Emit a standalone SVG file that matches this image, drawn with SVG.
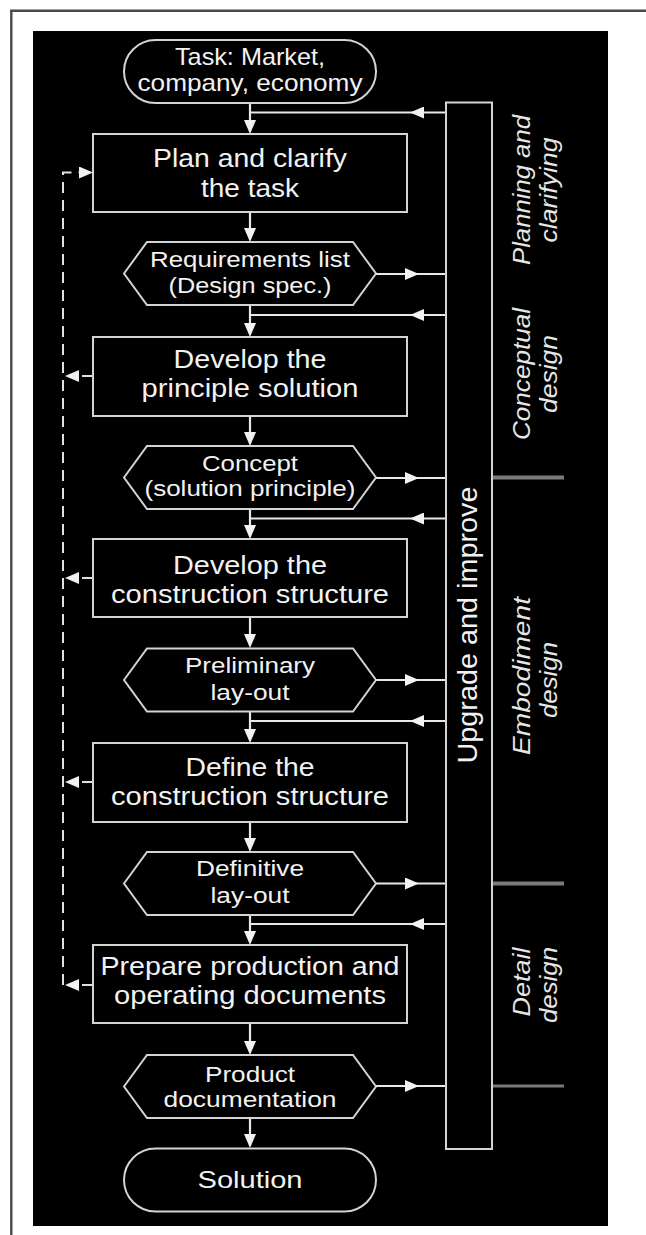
<svg xmlns="http://www.w3.org/2000/svg" width="646" height="1235" viewBox="0 0 646 1235">
  <defs>
    <style>
      .shape { fill: #000; stroke: #d4d4d4; stroke-width: 2; }
      .bar { fill: #000; stroke: #d4d4d4; stroke-width: 2; }
      .t { font-family: "Liberation Sans", Arial, sans-serif; fill: #f2f2f2; text-anchor: middle; lengthAdjust: spacingAndGlyphs; }
      .box { font-size: 25px; }
      .hex { font-size: 22px; }
      .term { font-size: 24px; }
      .phase { font-size: 23px; font-style: italic; fill: #e6e6e6; }
      .flow { fill: none; stroke: #e8e8e8; stroke-width: 2.2; }
      .dash { fill: none; stroke: #e0e0e0; stroke-width: 2; stroke-dasharray: 11 7; }
      .sep { stroke: #7a7a7a; stroke-width: 4; }
      .frame { stroke: #4a4a4a; stroke-width: 2.4; }
    </style>
    <marker id="arrow" markerUnits="userSpaceOnUse" markerWidth="14" markerHeight="12" refX="11" refY="6" orient="auto">
      <path d="M0,0 L14,6 L0,12 z" fill="#f2f2f2"/>
    </marker>
  </defs>

  <!-- page frame and dark panel -->
  <rect width="646" height="1235" fill="#fff"/>
  <line class="frame" x1="10" y1="10.8" x2="646" y2="10.8"/>
  <line class="frame" x1="11.3" y1="10" x2="11.3" y2="1235"/>
  <rect x="33" y="31" width="575" height="1195" fill="#000"/>

  <!-- phase separators -->
  <g id="phase-separators">
    <line class="sep" x1="492" y1="477.5" x2="564" y2="477.5"/>
    <line class="sep" x1="492" y1="883.5" x2="564" y2="883.5"/>
    <line class="sep" x1="492" y1="1086" x2="564" y2="1086" style="stroke-width:3"/>
  </g>

  <!-- connectors -->
  <g id="connectors">
    <!-- main downward flow -->
    <path class="flow" d="M250 103 V131" marker-end="url(#arrow)"/>
    <path class="flow" d="M250 212 V239" marker-end="url(#arrow)"/>
    <path class="flow" d="M250 305 V334" marker-end="url(#arrow)"/>
    <path class="flow" d="M250 416 V443" marker-end="url(#arrow)"/>
    <path class="flow" d="M250 509 V536" marker-end="url(#arrow)"/>
    <path class="flow" d="M250 617 V645" marker-end="url(#arrow)"/>
    <path class="flow" d="M250 712 V740" marker-end="url(#arrow)"/>
    <path class="flow" d="M250 822 V849" marker-end="url(#arrow)"/>
    <path class="flow" d="M250 915 V942" marker-end="url(#arrow)"/>
    <path class="flow" d="M250 1023 V1052" marker-end="url(#arrow)"/>
    <path class="flow" d="M250 1118 V1145" marker-end="url(#arrow)"/>

    <!-- results into "Upgrade and improve" -->
    <path class="flow" d="M376 274 L416 274 L446 274" marker-mid="url(#arrow)"/>
    <path class="flow" d="M376 478 L416 478 L446 478" marker-mid="url(#arrow)"/>
    <path class="flow" d="M376 680 L416 680 L446 680" marker-mid="url(#arrow)"/>
    <path class="flow" d="M376 883.5 L416 883.5 L446 883.5" marker-mid="url(#arrow)"/>
    <path class="flow" d="M376 1086 L416 1086 L446 1086" marker-mid="url(#arrow)"/>

    <!-- feedback from "Upgrade and improve" -->
    <path class="flow" d="M446 112.5 L413 112.5 L250 112.5" marker-mid="url(#arrow)"/>
    <path class="flow" d="M446 315 L413 315 L250 315" marker-mid="url(#arrow)"/>
    <path class="flow" d="M446 518.5 L413 518.5 L250 518.5" marker-mid="url(#arrow)"/>
    <path class="flow" d="M446 721 L413 721 L250 721" marker-mid="url(#arrow)"/>
    <path class="flow" d="M446 924 L413 924 L250 924" marker-mid="url(#arrow)"/>

    <!-- dashed return path -->
    <path class="dash" d="M63 985 V172.5 H90" marker-end="url(#arrow)"/>
    <path class="dash" d="M93 376 H68" marker-end="url(#arrow)"/>
    <path class="dash" d="M93 578 H68" marker-end="url(#arrow)"/>
    <path class="dash" d="M93 782 H68" marker-end="url(#arrow)"/>
    <path class="dash" d="M93 985 H68" marker-end="url(#arrow)"/>
  </g>

  <!-- side bar -->
  <g id="upgrade-improve">
    <rect class="bar" x="446" y="102.5" width="46" height="1046.5"/>
    <text class="t" transform="translate(477,625) rotate(-90)" font-size="27" textLength="277" lengthAdjust="spacingAndGlyphs">Upgrade and improve</text>
  </g>

  <!-- phase labels -->
  <g id="phase-planning">
    <text class="t phase" transform="translate(530,190) rotate(-90)" textLength="150" lengthAdjust="spacingAndGlyphs">Planning and</text>
    <text class="t phase" transform="translate(557,190) rotate(-90)" textLength="105" lengthAdjust="spacingAndGlyphs">clarifying</text>
  </g>
  <g id="phase-conceptual">
    <text class="t phase" transform="translate(530,374) rotate(-90)" textLength="132" lengthAdjust="spacingAndGlyphs">Conceptual</text>
    <text class="t phase" transform="translate(557,374) rotate(-90)" textLength="78" lengthAdjust="spacingAndGlyphs">design</text>
  </g>
  <g id="phase-embodiment">
    <text class="t phase" transform="translate(530,676) rotate(-90)" textLength="158" lengthAdjust="spacingAndGlyphs">Embodiment</text>
    <text class="t phase" transform="translate(557,680) rotate(-90)" textLength="76" lengthAdjust="spacingAndGlyphs">design</text>
  </g>
  <g id="phase-detail">
    <text class="t phase" transform="translate(530,982) rotate(-90)" textLength="69" lengthAdjust="spacingAndGlyphs">Detail</text>
    <text class="t phase" transform="translate(557,985) rotate(-90)" textLength="76" lengthAdjust="spacingAndGlyphs">design</text>
  </g>

  <!-- process nodes -->
  <g id="task">
    <rect class="shape" x="124" y="40" width="252" height="63" rx="31.5"/>
    <text class="t term" x="250" y="65" textLength="150" lengthAdjust="spacingAndGlyphs">Task: Market,</text>
    <text class="t term" x="250" y="91" textLength="225" lengthAdjust="spacingAndGlyphs">company, economy</text>
  </g>

  <g id="plan-clarify">
    <rect class="shape" x="93" y="134" width="314" height="78"/>
    <text class="t box" x="250" y="166.7" textLength="194" lengthAdjust="spacingAndGlyphs">Plan and clarify</text>
    <text class="t box" x="250" y="196.7" textLength="98" lengthAdjust="spacingAndGlyphs">the task</text>
  </g>

  <g id="requirements-list">
    <polygon class="shape" points="124,273.5 147,242 353,242 376,273.5 353,305 147,305"/>
    <text class="t hex" x="250" y="266.7" textLength="200" lengthAdjust="spacingAndGlyphs">Requirements list</text>
    <text class="t hex" x="250" y="293.3" textLength="163" lengthAdjust="spacingAndGlyphs">(Design spec.)</text>
  </g>

  <g id="principle-solution">
    <rect class="shape" x="93" y="337" width="314" height="79"/>
    <text class="t box" x="250" y="368.3" textLength="153" lengthAdjust="spacingAndGlyphs">Develop the</text>
    <text class="t box" x="250" y="397.3" textLength="217" lengthAdjust="spacingAndGlyphs">principle solution</text>
  </g>

  <g id="concept">
    <polygon class="shape" points="124,477.5 147,446 353,446 376,477.5 353,509 147,509"/>
    <text class="t hex" x="250" y="470.7" textLength="96" lengthAdjust="spacingAndGlyphs">Concept</text>
    <text class="t hex" x="250" y="496" textLength="211" lengthAdjust="spacingAndGlyphs">(solution principle)</text>
  </g>

  <g id="develop-structure">
    <rect class="shape" x="93" y="539" width="314" height="78"/>
    <text class="t box" x="250" y="574" textLength="154" lengthAdjust="spacingAndGlyphs">Develop the</text>
    <text class="t box" x="250" y="602.7" textLength="278" lengthAdjust="spacingAndGlyphs">construction structure</text>
  </g>

  <g id="preliminary-layout">
    <polygon class="shape" points="124,680 147,648.5 353,648.5 376,680 353,711.5 147,711.5"/>
    <text class="t hex" x="250" y="673.3" textLength="130" lengthAdjust="spacingAndGlyphs">Preliminary</text>
    <text class="t hex" x="250" y="700" textLength="79" lengthAdjust="spacingAndGlyphs">lay-out</text>
  </g>

  <g id="define-structure">
    <rect class="shape" x="93" y="743" width="314" height="79"/>
    <text class="t box" x="250" y="776" textLength="129" lengthAdjust="spacingAndGlyphs">Define the</text>
    <text class="t box" x="250" y="805" textLength="278" lengthAdjust="spacingAndGlyphs">construction structure</text>
  </g>

  <g id="definitive-layout">
    <polygon class="shape" points="124,883.5 147,852 353,852 376,883.5 353,915 147,915"/>
    <text class="t hex" x="250" y="876" textLength="108" lengthAdjust="spacingAndGlyphs">Definitive</text>
    <text class="t hex" x="250" y="903.3" textLength="79" lengthAdjust="spacingAndGlyphs">lay-out</text>
  </g>

  <g id="prepare-documents">
    <rect class="shape" x="93" y="945" width="314" height="78"/>
    <text class="t box" x="250" y="975" textLength="299" lengthAdjust="spacingAndGlyphs">Prepare production and</text>
    <text class="t box" x="250" y="1004" textLength="272" lengthAdjust="spacingAndGlyphs">operating documents</text>
  </g>

  <g id="product-documentation">
    <polygon class="shape" points="124,1086.5 147,1055 353,1055 376,1086.5 353,1118 147,1118"/>
    <text class="t hex" x="250" y="1081.7" textLength="90" lengthAdjust="spacingAndGlyphs">Product</text>
    <text class="t hex" x="250" y="1106.7" textLength="173" lengthAdjust="spacingAndGlyphs">documentation</text>
  </g>

  <g id="solution">
    <rect class="shape" x="124" y="1148.5" width="252" height="63" rx="31.5"/>
    <text class="t term" x="250" y="1188.3" textLength="105" lengthAdjust="spacingAndGlyphs">Solution</text>
  </g>
</svg>
